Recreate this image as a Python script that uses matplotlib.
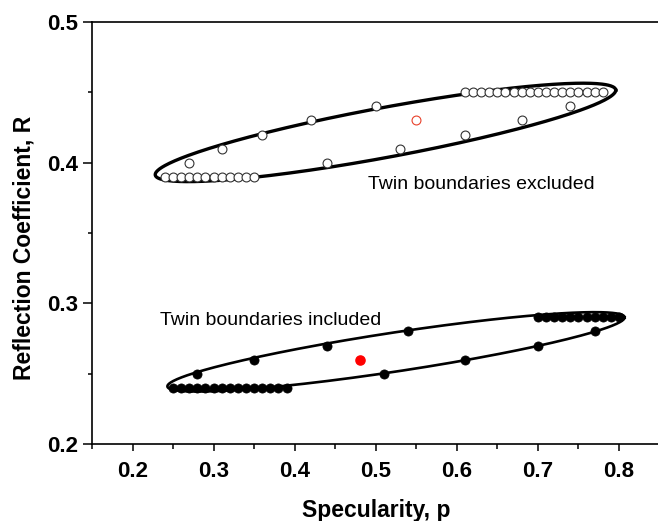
import numpy as np
import matplotlib
matplotlib.use("Agg")
import matplotlib.pyplot as plt
from matplotlib.ticker import MultipleLocator

plt.rcParams['font.family'] = ['Liberation Sans', 'DejaVu Sans']

# twin boundaries excluded (open circles)
excl_row_lo_x = [0.24, 0.25, 0.26, 0.27, 0.28, 0.29, 0.30, 0.31, 0.32, 0.33, 0.34, 0.35]
excl_row_lo_y = [0.39] * 12
excl_mid_x = [0.27, 0.31, 0.36, 0.42, 0.50, 0.44, 0.53, 0.61, 0.68, 0.74]
excl_mid_y = [0.40, 0.41, 0.42, 0.43, 0.44, 0.40, 0.41, 0.42, 0.43, 0.44]
excl_row_hi_x = [0.61, 0.62, 0.63, 0.64, 0.65, 0.66, 0.67, 0.68, 0.69,
                 0.70, 0.71, 0.72, 0.73, 0.74, 0.75, 0.76, 0.77, 0.78]
excl_row_hi_y = [0.45] * 18
excl_red_x = [0.55]
excl_red_y = [0.43]

# twin boundaries included (filled circles)
incl_row_lo_x = [0.25, 0.26, 0.27, 0.28, 0.29, 0.30, 0.31, 0.32, 0.33,
                 0.34, 0.35, 0.36, 0.37, 0.38, 0.39]
incl_row_lo_y = [0.24] * 15
incl_mid_x = [0.28, 0.35, 0.44, 0.54, 0.51, 0.61, 0.70, 0.77]
incl_mid_y = [0.25, 0.26, 0.27, 0.28, 0.25, 0.26, 0.27, 0.28]
incl_row_hi_x = [0.70, 0.71, 0.72, 0.73, 0.74, 0.75, 0.76, 0.77, 0.78, 0.79, 0.80]
incl_row_hi_y = [0.29] * 11
incl_red_x = [0.48]
incl_red_y = [0.26]

# enclosing ellipses: center, half-vector to tip, vertical half-height
ell_excl = (0.512, 0.4215, 0.284, 0.030, 0.018)
ell_incl = (0.525, 0.2655, 0.282, 0.0245, 0.014)


def ellipse_pts(e):
    cx, cy, dx, dy, h = e
    t = np.linspace(0, 2 * np.pi, 400)
    return cx + dx * np.cos(t), cy + dy * np.cos(t) + h * np.sin(t)


fig = plt.figure(figsize=(6.58, 5.21), dpi=100)
ax = fig.add_axes([0.1398, 0.1478, 0.8625, 0.81])

ex, ey = ellipse_pts(ell_excl)
ax.plot(ex, ey, color='black', lw=2.4, zorder=1)
ix, iy = ellipse_pts(ell_incl)
ax.plot(ix, iy, color='black', lw=1.9, zorder=1)

open_kw = dict(ls='none', marker='o', ms=6.4, mfc='white', mec='#333333', mew=0.8, zorder=3)
for xs, ys in [(excl_row_lo_x, excl_row_lo_y), (excl_mid_x, excl_mid_y),
               (excl_row_hi_x, excl_row_hi_y)]:
    ax.plot(xs, ys, **open_kw)
ax.plot(excl_red_x, excl_red_y, ls='none', marker='o', ms=6.4, mfc='white',
        mec='#e8402a', mew=0.8, zorder=3)

fill_kw = dict(ls='none', marker='o', ms=6.6, mfc='black', mec='black', mew=0.5, zorder=3)
for xs, ys in [(incl_row_lo_x, incl_row_lo_y), (incl_mid_x, incl_mid_y),
               (incl_row_hi_x, incl_row_hi_y)]:
    ax.plot(xs, ys, **fill_kw)
ax.plot(incl_red_x, incl_red_y, ls='none', marker='o', ms=6.6, mfc='#ff0000',
        mec='#ff0000', zorder=3)

ax.text(0.49, 0.381, 'Twin boundaries excluded', fontsize=14, ha='left', va='baseline')
ax.text(0.2333, 0.2846, 'Twin boundaries included', fontsize=14, ha='left', va='baseline')

ax.set_xlim(0.15, 0.85)
ax.set_ylim(0.2, 0.5)
ax.xaxis.set_major_locator(MultipleLocator(0.1))
ax.xaxis.set_minor_locator(MultipleLocator(0.05))
ax.yaxis.set_major_locator(MultipleLocator(0.1))
ax.yaxis.set_minor_locator(MultipleLocator(0.05))
ax.xaxis.set_major_formatter(plt.FuncFormatter(lambda v, p: f'{v:.1f}'))
ax.yaxis.set_major_formatter(plt.FuncFormatter(lambda v, p: f'{v:.1f}'))

ax.spines['right'].set_visible(False)
for s in ['left', 'bottom', 'top']:
    ax.spines[s].set_linewidth(1.2)
ax.tick_params(axis='both', which='both', direction='out', width=1.1)
ax.tick_params(axis='x', which='major', length=5.3, pad=7)
ax.tick_params(axis='x', which='minor', length=3.5)
ax.tick_params(axis='y', which='major', length=6.5, pad=3.5)
ax.tick_params(axis='y', which='minor', length=3.2)
for lab in ax.get_xticklabels() + ax.get_yticklabels():
    lab.set_fontsize(16)
    lab.set_fontweight('bold')

ax.set_xlabel('Specularity, p', fontsize=16.5, fontweight='bold', labelpad=12)
ax.set_ylabel('Reflection Coefficient, R', fontsize=16.5, fontweight='bold')
ax.yaxis.set_label_coords(-0.100, 0.464)

fig.savefig('out.png', dpi=100)
